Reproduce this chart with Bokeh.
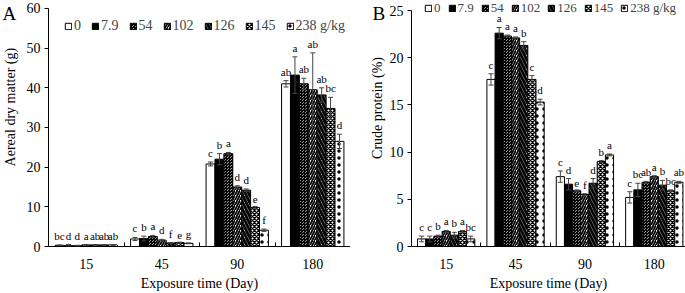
from math import pi
from bokeh.plotting import figure
from bokeh.models import (ColumnDataSource, FixedTicker, Whisker, TeeHead, Legend,
                          LegendItem, Range1d)
from bokeh.transform import dodge
from bokeh.layouts import row
from bokeh.core.properties import value
from bokeh.embed import file_html
from bokeh.resources import INLINE

days = ["15", "45", "90", "180"]
doses = ["0", "7.9", "54", "102", "126", "145", "238 g/kg"]

# Panel A: aereal dry matter (g), one list per dose (over days)
dm_0 = [0.3, 1.9, 20.8, 41.0]
dm_7_9 = [0.2, 2.0, 22.0, 43.2]
dm_54 = [0.2, 2.5, 23.4, 41.0]
dm_102 = [0.4, 1.6, 15.0, 39.5]
dm_126 = [0.4, 0.9, 14.2, 38.2]
dm_145 = [0.4, 1.0, 9.8, 34.8]
dm_238 = [0.4, 0.8, 4.1, 26.5]

dm_err_0 = [0.1, 0.4, 0.5, 0.8]
dm_err_7_9 = [0.3, 0.6, 1.4, 4.6]
dm_err_54 = [0.1, 0.3, 0.3, 1.4]
dm_err_102 = [0.1, 0.2, 0.3, 9.3]
dm_err_126 = [0.1, 0.1, 0.3, 1.8]
dm_err_145 = [0.1, 0.1, 0.3, 2.8]
dm_err_238 = [0.1, 0.1, 0.3, 1.8]

dm_sig_0 = ["bc", "c", "c", "ab"]
dm_sig_7_9 = ["d", "b", "b", "a"]
dm_sig_54 = ["d", "a", "a", "ab"]
dm_sig_102 = ["a", "d", "d", "ab"]
dm_sig_126 = ["ab", "f", "d", "ab"]
dm_sig_145 = ["ab", "e", "e", "bc"]
dm_sig_238 = ["ab", "g", "f", "d"]

# Panel B: crude protein (%)
cp_0 = [0.8, 17.7, 7.4, 5.2]
cp_7_9 = [0.8, 22.6, 6.6, 6.0]
cp_54 = [1.1, 22.3, 5.9, 6.8]
cp_102 = [1.6, 22.1, 5.5, 7.4]
cp_126 = [1.2, 21.3, 6.7, 6.5]
cp_145 = [1.6, 17.7, 9.0, 5.9]
cp_238 = [0.8, 15.3, 9.7, 6.8]

cp_err_0 = [0.3, 0.6, 0.6, 0.6]
cp_err_7_9 = [0.3, 0.6, 0.6, 0.7]
cp_err_54 = [0.1, 0.1, 0.1, 0.1]
cp_err_102 = [0.1, 0.1, 0.1, 0.1]
cp_err_126 = [0.3, 0.4, 0.5, 0.5]
cp_err_145 = [0.1, 0.4, 0.1, 0.1]
cp_err_238 = [0.3, 0.3, 0.1, 0.1]

cp_sig_0 = ["c", "c", "c", "c"]
cp_sig_7_9 = ["c", "a", "d", "bc"]
cp_sig_54 = ["b", "a", "e", "ab"]
cp_sig_102 = ["a", "a", "f", "a"]
cp_sig_126 = ["b", "b", "d", "b"]
cp_sig_145 = ["a", "c", "b", "bc"]
cp_sig_238 = ["bc", "d", "a", "ab"]

FONT = "Liberation Serif"
BAR_W = 0.118

styles = [
    dict(fill_color="white"),
    dict(fill_color="black"),
    dict(fill_color="#9a9a9a", hatch_pattern="criss_cross", hatch_color="black",
         hatch_scale=3, hatch_weight=1),
    dict(fill_color="white", hatch_pattern="right_diagonal_line", hatch_color="black",
         hatch_scale=5, hatch_weight=1.8),
    dict(fill_color="white", hatch_pattern="left_diagonal_line", hatch_color="black",
         hatch_scale=7, hatch_weight=2.8),
    dict(fill_color="white", hatch_pattern="diagonal_cross", hatch_color="black",
         hatch_scale=4, hatch_weight=1.4),
    dict(fill_color="white", hatch_pattern="dot", hatch_color="black",
         hatch_scale=7, hatch_weight=5),
]


def side(width, letter, letter_x, ylabel, ylabel_x, ylabel_y):
    """Narrow strip holding the panel letter and the rotated y-axis title."""
    s = figure(width=width, height=293, x_range=Range1d(0, width), y_range=Range1d(0, 293),
               output_backend="svg", toolbar_location=None, min_border=0)
    s.axis.visible = False
    s.grid.visible = False
    s.outline_line_color = None
    s.text(x=[letter_x], y=[293 - 16], text=[letter], text_font=value(FONT),
           text_font_size="19px", text_baseline="alphabetic", text_align="left",
           text_color="black")
    s.text(x=[ylabel_x], y=[293 - ylabel_y], text=[ylabel], angle=pi / 2,
           text_font=value(FONT), text_font_size="14px", text_baseline="middle",
           text_align="center", text_color="black")
    return s


def panel(means, errs, sigs, ymax, ystep, yend, width, b_left, xend, leg_loc,
          leg_font, leg_spacing):
    p = figure(width=width, height=293, x_range=Range1d(-0.5, xend),
               y_range=Range1d(0, yend), output_backend="svg", toolbar_location=None,
               min_border_left=b_left, min_border_right=0,
               min_border_top=0, min_border_bottom=46)
    p.outline_line_color = None
    p.xgrid.visible = False
    p.ygrid.visible = False

    items = []
    nser = len(means)
    for j in range(nser):
        off = (j - (nser - 1) / 2) * BAR_W
        src = ColumnDataSource(dict(
            x=list(range(len(days))),
            top=means[j],
            upper=[m + e for m, e in zip(means[j], errs[j])],
            lower=[m - e for m, e in zip(means[j], errs[j])],
            sig=sigs[j],
        ))
        r = p.vbar(x=dodge("x", off), top="top", width=BAR_W, bottom=0, source=src,
                   line_color="black", line_width=1, **styles[j])
        w = Whisker(base=dodge("x", off), upper="upper", lower="lower", source=src,
                    line_color="#444444", line_width=1, level="overlay",
                    upper_head=TeeHead(size=5, line_color="#444444", line_width=1),
                    lower_head=TeeHead(size=5, line_color="#444444", line_width=1))
        p.add_layout(w)
        p.text(x=dodge("x", off), y="upper", text="sig", source=src,
               text_font=value(FONT), text_font_size="11px", text_align="center",
               text_baseline="bottom", y_offset=-3, text_color="black")
        items.append(LegendItem(label=doses[j], renderers=[r]))

    leg = Legend(items=items, orientation="horizontal", location=leg_loc,
                 label_text_font=FONT, label_text_font_size=leg_font,
                 glyph_width=8, glyph_height=8, label_standoff=2, spacing=leg_spacing,
                 label_width=1, label_height=10, padding=0, margin=0,
                 border_line_color=None, background_fill_alpha=0)
    p.add_layout(leg)

    p.xaxis.ticker = FixedTicker(ticks=list(range(len(days))),
                                 minor_ticks=[i + 0.5 for i in range(len(days) - 1)])
    p.xaxis.major_label_overrides = {i: d for i, d in enumerate(days)}
    p.xaxis.major_tick_line_color = None
    p.xaxis.major_tick_in = 0
    p.xaxis.major_tick_out = 0
    p.xaxis.minor_tick_line_color = "black"
    p.xaxis.minor_tick_in = 4
    p.xaxis.minor_tick_out = 0
    p.xaxis.axis_label = "Exposure time (Day)"
    p.xaxis.major_label_standoff = 12
    p.xaxis.axis_label_standoff = 4

    p.yaxis.ticker = FixedTicker(ticks=list(range(0, ymax + 1, ystep)))
    p.yaxis.bounds = (0, ymax)
    p.yaxis.minor_tick_line_color = None
    p.yaxis.major_tick_in = 0
    p.yaxis.major_tick_out = 4
    p.yaxis.major_label_standoff = 4

    for ax in (p.xaxis[0], p.yaxis[0]):
        ax.axis_line_color = "black"
        ax.axis_line_width = 1
        ax.major_label_text_font = FONT
        ax.major_label_text_font_size = "14px"
        ax.major_label_text_color = "black"
        ax.axis_label_text_font = FONT
        ax.axis_label_text_font_size = "14px"
        ax.axis_label_text_font_style = "normal"
        ax.axis_label_text_color = "black"
    return p


sA = side(20, "A", 2, "Aereal dry matter (g)", 10, 127)
pA = panel([dm_0, dm_7_9, dm_54, dm_102, dm_126, dm_145, dm_238],
           [dm_err_0, dm_err_7_9, dm_err_54, dm_err_102, dm_err_126, dm_err_145, dm_err_238],
           [dm_sig_0, dm_sig_7_9, dm_sig_54, dm_sig_102, dm_sig_126, dm_sig_145, dm_sig_238],
           60, 10, 62.0, 330, 28, 3.5, (16, 212), "14px", 10)
sB = side(36, "B", 22, "Crude protein (%)", 27, 128)
pB = panel([cp_0, cp_7_9, cp_54, cp_102, cp_126, cp_145, cp_238],
           [cp_err_0, cp_err_7_9, cp_err_54, cp_err_102, cp_err_126, cp_err_145, cp_err_238],
           [cp_sig_0, cp_sig_7_9, cp_sig_54, cp_sig_102, cp_sig_126, cp_sig_145, cp_sig_238],
           25, 5, 26.06, 299, 24, 3.45, (13, 230), "13px", 7)

layout = row(sA, pA, sB, pB, spacing=0)
open("out.html", "w").write(file_html(layout, INLINE))
